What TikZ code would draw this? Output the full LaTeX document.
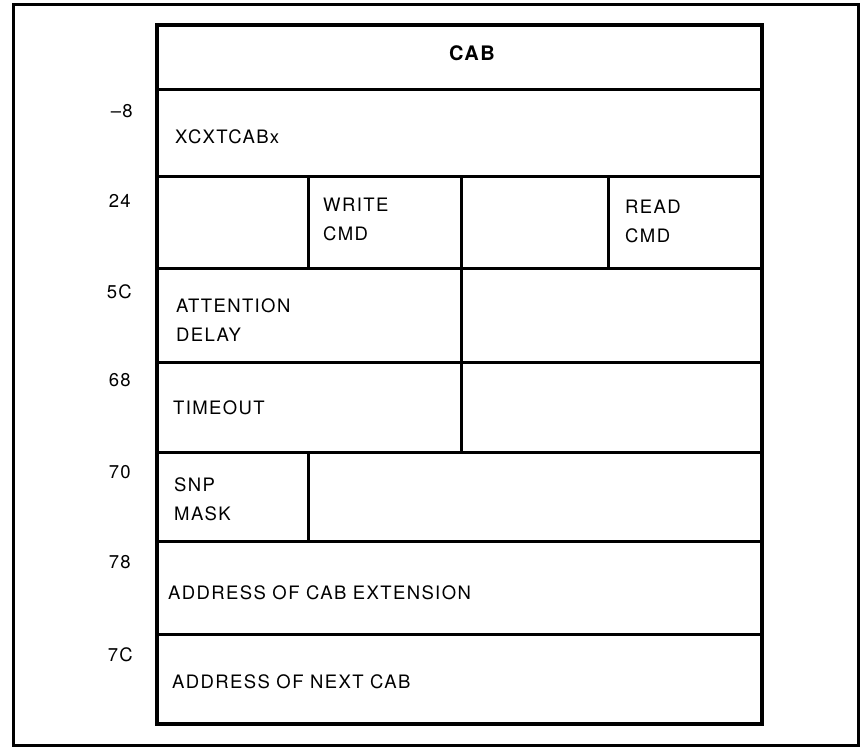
\documentclass[tikz,border=0pt]{standalone}
\usepackage{fontspec}
\newfontfamily\lblfont[LetterSpace=7.5]{TeX Gyre Heros}
\begin{document}
\begin{tikzpicture}[x=1pt,y=-1pt,
        cell/.style={line width=3pt},
        lbl/.style={anchor=west,inner sep=0pt,align=left,font=\lblfont\fontsize{18.5}{29}\selectfont},
        off/.style={anchor=east,inner sep=0pt,font=\lblfont\fontsize{18.5}{20}\selectfont}]
        \useasboundingbox (0,0) rectangle (861,748);
        \draw[line width=3pt] (13.5,4.5) rectangle (858,745.5);

        % tabella
        \draw[line width=3.5pt] (157,25) rectangle (762,724);
        \foreach \y in {89,176,268,362,452,541,634}
            \draw[cell] (157,\y) -- (762,\y);
        \draw[cell] (308,176) -- (308,268);
        \draw[cell] (461,176) -- (461,452);
        \draw[cell] (608,176) -- (608,268);
        \draw[cell] (308,452) -- (308,541);

        % offset
        \node[off] (om8) at (133,111) {\textendash8};
        \node[off] (o24) at (131,201) {24};
        \node[off] (o5c) at (132,292) {5C};
        \node[off] (o68) at (131,380) {68};
        \node[off] (o70) at (131,472) {70};
        \node[off] (o78) at (131,562) {78};
        \node[off] (o7c) at (133,655) {7C};

        % campi
        \node[inner sep=0pt,font=\lblfont\bfseries\fontsize{20}{20}\selectfont] (cab) at (472,53) {CAB};
        \node[lbl] (xcxt) at (175,137) {XCXTCABx};
        \node[lbl] (wcmd) at (323,219) {WRITE\\CMD};
        \node[lbl] (rcmd) at (625,221.5) {READ\\CMD};
        \node[lbl] (attn) at (176,320) {ATTENTION\\DELAY};
        \node[lbl] (tmo) at (173,408) {TIMEOUT};
        \node[lbl] (snp) at (174,499.5) {SNP\\MASK};
        \node[lbl] (cabext) at (168,593) {ADDRESS OF CAB EXTENSION};
        \node[lbl] (nextcab) at (172,682) {ADDRESS OF NEXT CAB};
    \end{tikzpicture}
\end{document}
